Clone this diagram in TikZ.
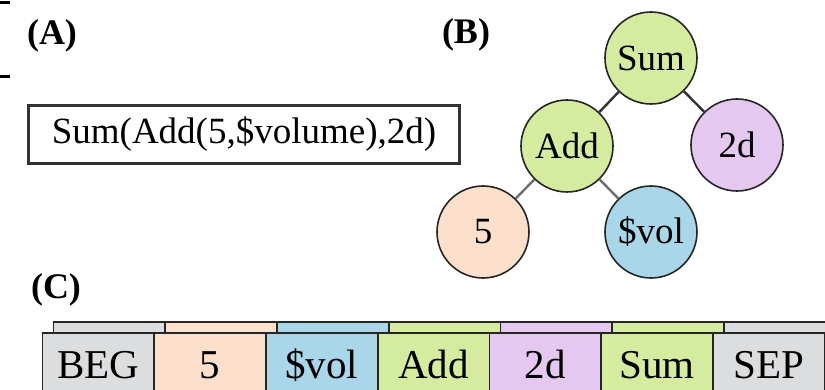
\documentclass[tikz,border=0pt]{standalone}
\usepackage{fontspec}
\setmainfont{Liberation Serif}
\definecolor{cgreen}{HTML}{D4EBA0}
\definecolor{cpurple}{HTML}{E4C8F0}
\definecolor{cpeach}{HTML}{FCE0CC}
\definecolor{cblue}{HTML}{A9D6E8}
\definecolor{cgray}{HTML}{DCDDDF}
\definecolor{edgegray}{HTML}{6E6E6E}
\tikzset{
  lab/.style={font=\fontsize{36}{40}\selectfont\bfseries, inner sep=0pt},
  treenode/.style={circle, draw=black!85, line width=1.6pt, minimum size=92pt, inner sep=0pt, font=\fontsize{37}{40}\selectfont},
  exprbox/.style={draw=black!80, line width=2.4pt, minimum width=431pt, minimum height=58pt, inner sep=0pt, font=\fontsize{37}{40}\selectfont},
  cellbox/.style={draw=black!85, line width=1.8pt, minimum width=111.75pt, minimum height=62pt, inner sep=0pt, text height=28pt, text depth=0pt, font=\fontsize{41}{44}\selectfont},
  backbox/.style={draw=black!85, line width=1.8pt},
  treeedge/.style={line width=2.4pt},
}
\begin{document}
\begin{tikzpicture}[x=1pt,y=-1pt]
\useasboundingbox (0,0) rectangle (825,390);
\clip (0,0) rectangle (825,390);
% stray rules at the left edge
\draw[line width=2.2pt] (0,2.5) -- (10,2.5);
\draw[line width=2.2pt] (0,76.5) -- (10,76.5);
% labels
\node[lab] (la) at (52,36) {(A)};
\node[lab] (lb) at (466,35) {(B)};
\node[lab] (lc) at (56,290) {(C)};
% (A) expression box
\node[exprbox] (expr) at (244,134.5) {Sum(Add(5,\$volume),2d)};
% (B) tree
\node[treenode, fill=cgreen] (sum) at (651,58) {Sum};
\node[treenode, fill=cgreen] (add) at (567,146) {Add};
\node[treenode, fill=cpurple] (twod) at (737,145) {2d};
\node[treenode, fill=cpeach] (five) at (483,232) {5};
\node[treenode, fill=cblue] (vol) at (651,232) {\$vol};
\draw[treeedge, black!80] (sum) -- (add);
\draw[treeedge, black!80] (sum) -- (twod);
\draw[treeedge, edgegray] (add) -- (five);
\draw[treeedge, edgegray] (add) -- (vol);
% (C) sequence: back strips
\foreach \i/\c in {0/cgray,1/cpeach,2/cblue,3/cgreen,4/cpurple,5/cgreen,6/cgray}{
  \pgfmathsetmacro{\xl}{42.5+\i*111.75+11}
  \draw[backbox, fill=\c] (\xl,322) rectangle ++(111.75,30);
}
% front cells
\foreach \i/\c/\t/\n in {0/cgray/BEG/c1,1/cpeach/5/c2,2/cblue/\$vol/c3,3/cgreen/Add/c4,4/cpurple/2d/c5,5/cgreen/Sum/c6,6/cgray/SEP/c7}{
  \pgfmathsetmacro{\xc}{42.5+\i*111.75+55.875}
  \node[cellbox, fill=\c] (\n) at (\xc,364) {\t};
}
\end{tikzpicture}
\end{document}
